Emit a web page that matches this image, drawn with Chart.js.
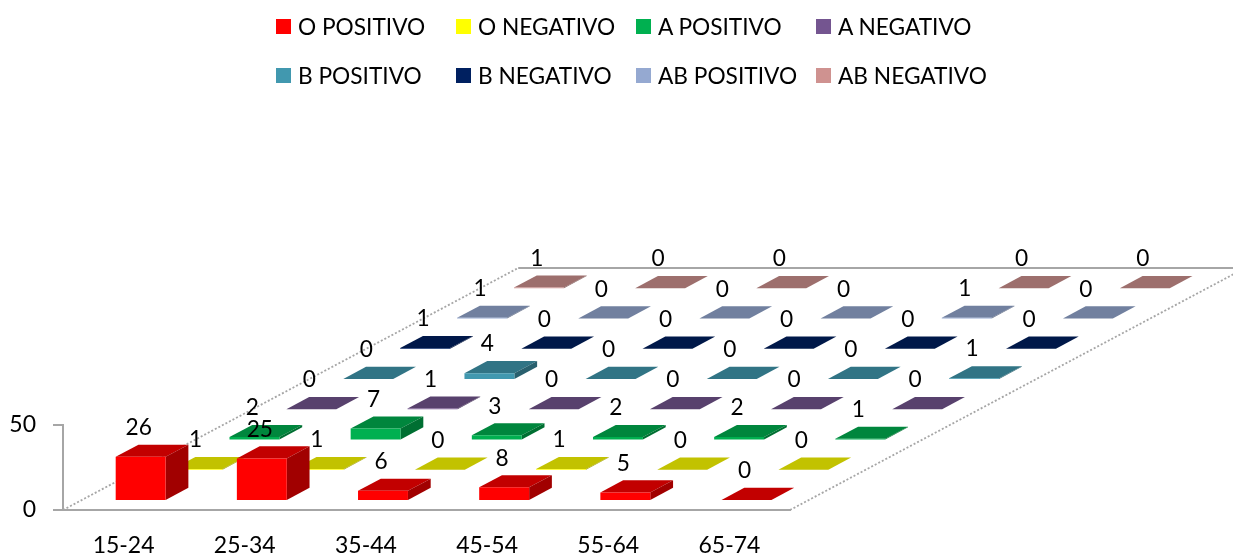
<!DOCTYPE html>
<html>
<head>
<meta charset="utf-8">
<title>Grupos sanguineos por edad</title>
<script src="https://cdn.jsdelivr.net/npm/chart.js@4"></script>
<style>
	body { margin: 0; background: #fff; overflow: hidden; }
	#wrap { position: relative; width: 1233px; height: 555px; }
	#legend {
		position: absolute; left: 276px; top: 2px;
		display: grid; grid-template-columns: repeat(4, 180px); grid-auto-rows: 49px;
		font: 22.7px Lato, sans-serif; color: #000;
	}
	#legend div { display: flex; align-items: center; white-space: nowrap; }
	#legend span { display: inline-block; width: 15px; height: 15px; margin-right: 7px; flex: none; }
</style>
</head>
<body>
<div id="wrap">
	<canvas id="chart" width="1233" height="555"></canvas>
	<div id="legend"></div>
</div>
<script>
//Age groups and value axis
let categories = ["15-24", "25-34", "35-44", "45-54", "55-64", "65-74"]
let valueTicks = [0, 50]

//Blood groups, front row first
let seriesNames = ["O POSITIVO", "O NEGATIVO", "A POSITIVO", "A NEGATIVO", "B POSITIVO", "B NEGATIVO", "AB POSITIVO", "AB NEGATIVO"]
let seriesColors = ["#FF0000", "#FFFF00", "#00B050", "#745590", "#4198AF", "#002060", "#95A9D1", "#CF9290"]

let oPositivo = [26, 25, 6, 8, 5, 0]
let oNegativo = [1, 1, 0, 1, 0, 0]
let aPositivo = [2, 7, 3, 2, 2, 1]
let aNegativo = [0, 1, 0, 0, 0, 0]
let bPositivo = [0, 4, 0, 0, 0, 1]
let bNegativo = [1, 0, 0, 0, 0, 0]
let abPositivo = [1, 0, 0, 0, 1, 0]
let abNegativo = [1, 0, 0, null, 0, 0]
let seriesValues = [oPositivo, oNegativo, aPositivo, aNegativo, bPositivo, bNegativo, abPositivo, abNegativo]

//Oblique projection: how far one row moves right and up
const rowX = 56.9
const rowY = 30.25
const rowStart = 0.3
const boxDepth = 0.4
const axisGrey = "#a6a6a6"
const fontName = "Lato, sans-serif"

function shade(hex, k) {
	let n = parseInt(hex.slice(1), 16)
	let r = Math.round((n >> 16 & 255) * k)
	let g = Math.round((n >> 8 & 255) * k)
	let b = Math.round((n & 255) * k)
	return "rgb(" + r + "," + g + "," + b + ")"
}

function poly(ctx, pts, color) {
	ctx.fillStyle = color
	ctx.beginPath()
	ctx.moveTo(pts[0][0], pts[0][1])
	for (let i = 1; i < pts.length; i++) {
		ctx.lineTo(pts[i][0], pts[i][1])
	}
	ctx.closePath()
	ctx.fill()
}

//Floor of the 3D plot, behind all the boxes
const floorPlugin = {
	id: "floor",
	beforeDatasetsDraw(chart) {
		let ctx = chart.ctx
		let a = chart.chartArea
		let backX = rowX * seriesNames.length
		let backY = a.bottom - rowY * seriesNames.length
		ctx.save()
		ctx.strokeStyle = axisGrey
		ctx.lineWidth = 1.8
		ctx.setLineDash([2, 2])
		ctx.beginPath()
		ctx.moveTo(a.left, a.bottom)
		ctx.lineTo(a.left + backX, backY)
		ctx.moveTo(a.right, a.bottom)
		ctx.lineTo(a.right + backX, backY)
		ctx.stroke()
		ctx.setLineDash([])
		ctx.lineWidth = 2
		ctx.beginPath()
		ctx.moveTo(a.left + backX, backY)
		ctx.lineTo(a.right + backX, backY)
		ctx.stroke()
		ctx.restore()
	}
}

//Moves each dataset to its row and adds the top and side of each bar
const boxPlugin = {
	id: "boxes",
	beforeDatasetDraw(chart, args) {
		let ctx = chart.ctx
		let i = args.index
		let color = seriesColors[i]
		let dx = rowX * boxDepth
		let dy = rowY * boxDepth
		ctx.save()
		ctx.translate((i + rowStart) * rowX, -(i + rowStart) * rowY)
		args.meta.data.forEach((bar, j) => {
			if (seriesValues[i][j] === null) return
			let l = bar.x - bar.width / 2
			let r = bar.x + bar.width / 2
			poly(ctx, [[l, bar.y], [l + dx, bar.y - dy], [r + dx, bar.y - dy], [r, bar.y]], shade(color, 0.76))
			poly(ctx, [[r, bar.y], [r + dx, bar.y - dy], [r + dx, bar.base - dy], [r, bar.base]], shade(color, 0.63))
		})
	},
	afterDatasetDraw(chart) {
		chart.ctx.restore()
	},
	afterDatasetsDraw(chart) {
		let ctx = chart.ctx
		ctx.save()
		ctx.fillStyle = "#000"
		ctx.font = "22.7px " + fontName
		ctx.textAlign = "center"
		ctx.textBaseline = "middle"
		seriesValues.forEach((values, i) => {
			let bars = chart.getDatasetMeta(i).data
			values.forEach((v, j) => {
				if (v === null) return
				let x = bars[j].x + (i + rowStart) * rowX - 2
				let y = bars[j].y - (i + rowStart) * rowY - rowY * boxDepth - 17
				ctx.fillText(v, x, y)
			})
		})
		ctx.restore()
	}
}

let datasets = seriesNames.map((name, i) => ({
	label: name,
	data: seriesValues[i],
	backgroundColor: seriesColors[i],
	borderWidth: 0,
	minBarLength: 1,
	clip: false
}))

new Chart("chart", {
	type: "bar",
	data: { labels: categories, datasets: datasets },
	plugins: [floorPlugin, boxPlugin],
	options: {
		responsive: false,
		animation: false,
		events: [],
		grouped: false,
		categoryPercentage: 1,
		barPercentage: 0.412,
		layout: { padding: { top: 425, right: 443, bottom: 0, left: 0 } },
		plugins: { legend: { display: false }, tooltip: { enabled: false } },
		scales: {
			x: {
				afterFit: (s) => { s.height = 45 },
				grid: { display: false },
				border: { color: axisGrey, width: 2 },
				ticks: { padding: 14, maxRotation: 0, color: "#000", font: { family: fontName, size: 23 } }
			},
			y: {
				min: valueTicks[0],
				max: valueTicks[1],
				afterFit: (s) => { s.width = 63 },
				afterBuildTicks: (s) => { s.ticks = valueTicks.map((v) => ({ value: v })) },
				grid: { drawOnChartArea: false, color: axisGrey, lineWidth: 2, tickLength: 10 },
				border: { color: axisGrey, width: 2 },
				ticks: { padding: 17, color: "#000", font: { family: fontName, size: 23 } }
			}
		}
	}
})

//Legend in two rows of four equal columns
let legend = document.getElementById("legend")
seriesNames.forEach((name, i) => {
	let item = document.createElement("div")
	let box = document.createElement("span")
	box.style.background = seriesColors[i]
	item.appendChild(box)
	item.appendChild(document.createTextNode(name))
	legend.appendChild(item)
})
</script>
</body>
</html>
